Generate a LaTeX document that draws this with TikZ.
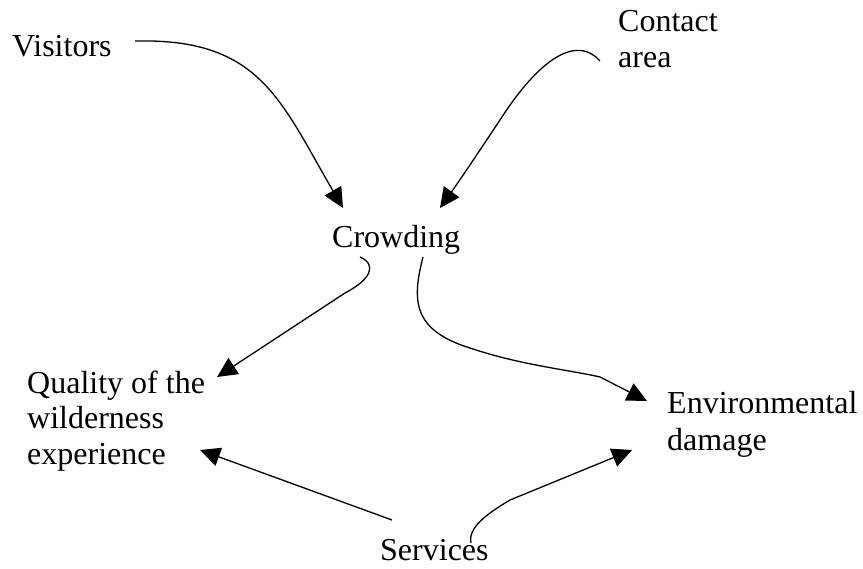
\documentclass[tikz,border=0pt]{standalone}
\usepackage{fontspec}
\setmainfont{Liberation Serif}
\usetikzlibrary{arrows.meta,calc}
\begin{document}
\begin{tikzpicture}[x=1pt,y=-1pt,
  lbl/.style={anchor=base west,inner sep=0pt,align=left,
    font=\fontsize{32}{36}\selectfont},
  link/.style={line width=1.3pt,-{Triangle[length=20pt,width=19pt]}}]
\useasboundingbox (0,0) rectangle (863,569);
% factors (base anchor = baseline of the last line)
\node[lbl] (vis)     at (12,57)   {Visitors};
\node[lbl] (contact) at (618,68)  {Contact\\area};
\node[lbl] (crowd)   at (332,248) {Crowding};
\node[lbl] (qual)    at (27,465)  {Quality of the\\wilderness\\experience};
\node[lbl] (env)     at (667,450) {Environmental\\damage};
\node[lbl] (serv)    at (380,560) {Services};
% influences
\draw[link] ($(vis.base west)+(123,-16)$)
  .. controls +(125,-3) and +(-63,-108) .. ($(crowd.base west)+(11,-40)$);
\draw[link] ($(contact.base west)+(-18,-7)$)
  .. controls (580,38) and (545,50) .. (500,120)
  .. controls (480,150) and (460,180) .. ($(crowd.base west)+(108,-40)$);
\draw[link] ($(crowd.base west)+(28,9)$)
  .. controls (378,265) and (370,280) .. (345,293)
  -- ($(qual.base west)+(190,-88)$);
\draw[link] ($(crowd.base west)+(91,9)$)
  .. controls (412,300) and (412,330) .. (470,348)
  .. controls (520,365) and (570,370) .. (600,377)
  -- ($(env.base west)+(-20,-49)$);
\draw[link] ($(serv.base west)+(12,-40)$) -- ($(qual.base west)+(173,-15)$);
\draw[link] ($(serv.base west)+(91,-17)$)
  .. controls (468,528) and (485,515) .. (510,500)
  -- ($(env.base west)+(-35,0)$);
\end{tikzpicture}
\end{document}
